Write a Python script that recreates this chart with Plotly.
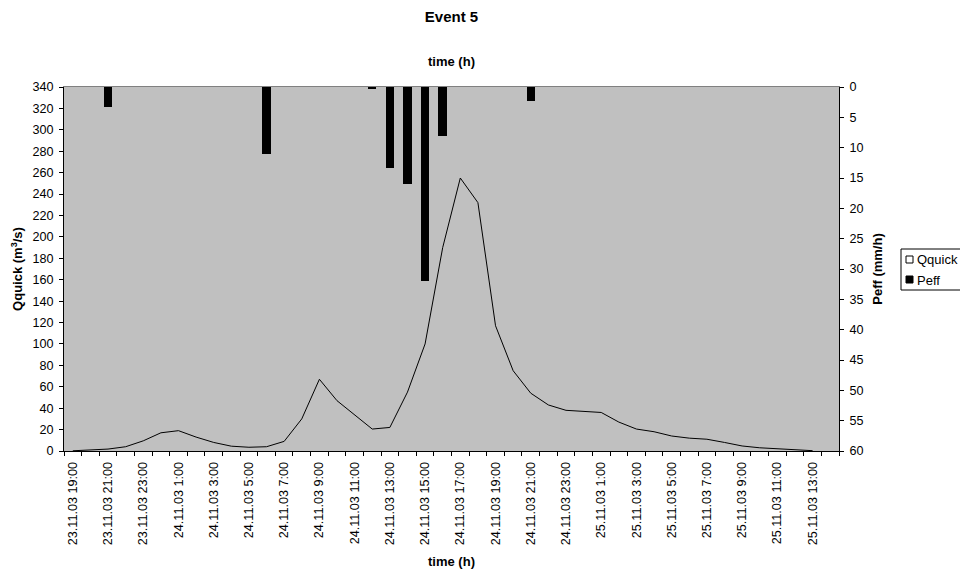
import plotly.graph_objects as go

# Hourly timestamps for event 5
time_labels = [
    "23.11.03 19:00", "23.11.03 20:00", "23.11.03 21:00", "23.11.03 22:00",
    "23.11.03 23:00", "24.11.03 0:00", "24.11.03 1:00", "24.11.03 2:00",
    "24.11.03 3:00", "24.11.03 4:00", "24.11.03 5:00", "24.11.03 6:00",
    "24.11.03 7:00", "24.11.03 8:00", "24.11.03 9:00", "24.11.03 10:00",
    "24.11.03 11:00", "24.11.03 12:00", "24.11.03 13:00", "24.11.03 14:00",
    "24.11.03 15:00", "24.11.03 16:00", "24.11.03 17:00", "24.11.03 18:00",
    "24.11.03 19:00", "24.11.03 20:00", "24.11.03 21:00", "24.11.03 22:00",
    "24.11.03 23:00", "25.11.03 0:00", "25.11.03 1:00", "25.11.03 2:00",
    "25.11.03 3:00", "25.11.03 4:00", "25.11.03 5:00", "25.11.03 6:00",
    "25.11.03 7:00", "25.11.03 8:00", "25.11.03 9:00", "25.11.03 10:00",
    "25.11.03 11:00", "25.11.03 12:00", "25.11.03 13:00", "25.11.03 14:00",
]

# Quick flow (m3/s)
q_quick = [
    0.2, 0.8, 1.8, 4, 9.5, 17, 19, 13, 8, 4.5, 3.5, 4, 9, 30, 67, 47,
    34, 20.5, 22, 55, 100, 190, 255, 232, 117, 75, 54, 43, 38, 37, 36, 27,
    20.5, 18, 14, 12, 11, 8, 4.7, 3, 1.9, 1.2, 0.3, None,
]

# Effective precipitation (mm/h)
p_eff = [
    0, 0, 3.3, 0, 0, 0, 0, 0, 0, 0, 0, 11, 0, 0, 0, 0,
    0, 0.3, 13.3, 16, 32, 8, 0, 0, 0, 0, 2.3, 0, 0, 0, 0, 0,
    0, 0, 0, 0, 0, 0, 0, 0, 0, 0, 0, 0,
]

q_ticks = list(range(0, 341, 20))
p_ticks = list(range(0, 61, 5))

W, H = 960, 575
L, R, T, B = 64, 121, 87, 124
PW, PH = W - L - R, H - T - B

def px_x(x):
    return (x - L) / PW

def px_y(y):
    return (H - B - y) / PH

idx = list(range(len(time_labels)))
bounds = [i - 0.5 for i in range(len(time_labels) + 1)]
label_idx = idx[::2]
xr = [-0.5, len(time_labels) - 0.5]

FAM = "Liberation Sans, Arial, sans-serif"
font = dict(family=FAM, size=13, color="black")
tickfont = dict(family=FAM, size=12.6, color="black")

fig = go.Figure()

fig.add_trace(go.Bar(
    x=idx, y=p_eff, xaxis="x2", yaxis="y2", name="Peff",
    marker=dict(color="black", line=dict(width=0)), width=0.48,
    showlegend=False,
))
fig.add_trace(go.Scatter(
    x=idx, y=q_quick, xaxis="x", yaxis="y", name="Qquick", mode="lines",
    line=dict(color="black", width=1), showlegend=False,
))

fig.update_layout(
    width=W, height=H,
    margin=dict(l=L, r=R, t=T, b=B),
    paper_bgcolor="white",
    plot_bgcolor="#C0C0C0",
    font=font,
    showlegend=False,
    title=dict(text="<b>Event 5</b>", x=0.5, xref="paper", xanchor="center",
               y=1 - 17 / H, yref="container", yanchor="middle",
               font=dict(family=FAM, size=15, color="black")),
    xaxis=dict(
        range=xr, domain=[0, 1], anchor="y", automargin=False,
        tickmode="array", tickvals=label_idx,
        ticktext=[time_labels[i] for i in label_idx],
        tickangle=-90, ticks="", ticklabelstandoff=5, tickfont=tickfont,
        minor=dict(tickmode="array", tickvals=bounds, ticks="outside",
                   ticklen=4, tickcolor="black", tickwidth=1, showgrid=False),
        showline=True, linecolor="black", linewidth=1,
        showgrid=False, zeroline=False,
        title=dict(text="<b>time (h)</b>", font=font, standoff=12),
    ),
    xaxis2=dict(
        range=xr, overlaying="x", side="top", anchor="y2", automargin=False,
        showticklabels=False, ticks="",
        showline=True, linecolor="#808080", linewidth=1,
        showgrid=False, zeroline=False,
        title=dict(text="<b>time (h)</b>", font=font, standoff=16),
    ),
    xaxis3=dict(
        range=xr, overlaying="x", side="bottom", anchor="y",
        tickmode="array", tickvals=bounds, ticks="inside", ticklen=3,
        tickcolor="black", showticklabels=False, showline=False,
        showgrid=False, zeroline=False,
    ),
    yaxis=dict(
        range=[0, 340], domain=[0, 1], anchor="x", automargin=False,
        tickmode="array", tickvals=q_ticks, ticks="outside", ticklen=4,
        tickcolor="black", ticklabelstandoff=3, tickfont=tickfont,
        showline=True, linecolor="black", linewidth=1,
        showgrid=False, zeroline=False,
        title=dict(text="<b>Qquick (m<sup>3</sup>/s)</b>", font=font, standoff=6),
    ),
    yaxis2=dict(
        range=[60, 0], overlaying="y", side="right", anchor="x", automargin=False,
        tickmode="array", tickvals=p_ticks, ticks="outside", ticklen=4,
        tickcolor="black", ticklabelstandoff=3, tickfont=tickfont,
        showline=True, linecolor="black", linewidth=1,
        showgrid=False, zeroline=False,
        title=dict(text="<b>Peff (mm/h)</b>", font=font, standoff=10),
    ),
    yaxis3=dict(
        range=[0, 340], overlaying="y", side="left", anchor="x",
        tickmode="array", tickvals=q_ticks, ticks="inside", ticklen=4,
        tickcolor="black", showticklabels=False, showline=False,
        showgrid=False, zeroline=False,
    ),
    yaxis4=dict(
        range=[60, 0], overlaying="y", side="right", anchor="x",
        tickmode="array", tickvals=p_ticks, ticks="inside", ticklen=4,
        tickcolor="black", showticklabels=False, showline=False,
        showgrid=False, zeroline=False,
    ),
    bargap=0,
)

# Legend box with series keys
fig.add_shape(type="rect", xref="paper", yref="paper",
              x0=px_x(901), x1=px_x(964), y0=px_y(290), y1=px_y(249),
              line=dict(color="black", width=1), fillcolor="white", layer="above")
fig.add_shape(type="rect", xref="paper", yref="paper",
              x0=px_x(906), x1=px_x(913), y0=px_y(263), y1=px_y(256),
              line=dict(color="black", width=1), fillcolor="white", layer="above")
fig.add_shape(type="rect", xref="paper", yref="paper",
              x0=px_x(906), x1=px_x(913), y0=px_y(283), y1=px_y(276),
              line=dict(color="black", width=1), fillcolor="black", layer="above")
fig.add_annotation(text="Qquick", xref="paper", yref="paper", x=px_x(915), y=px_y(259.5),
                   xanchor="left", yanchor="middle", showarrow=False, font=font)
fig.add_annotation(text="Peff", xref="paper", yref="paper", x=px_x(915), y=px_y(280),
                   xanchor="left", yanchor="middle", showarrow=False, font=font)

fig.write_html("out.html")
